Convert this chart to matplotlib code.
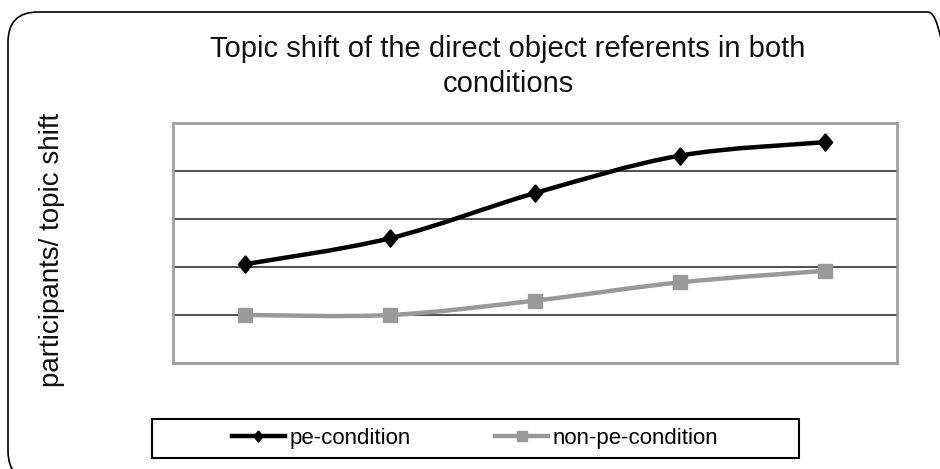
import numpy as np
import matplotlib
matplotlib.use("Agg")
import matplotlib.pyplot as plt
from matplotlib.path import Path
from matplotlib.patches import PathPatch, FancyBboxPatch, Rectangle
from matplotlib.lines import Line2D

plt.rcParams['font.family'] = ['Liberation Sans', 'DejaVu Sans']

# data (no axis labels in the original, scale 0-25)
pe_condition = [10.3, 13.0, 17.7, 21.6, 23.0]
non_pe_condition = [5.0, 5.0, 6.5, 8.4, 9.6]
series_names = ["pe-condition", "non-pe-condition"]
y_max = 25
y_step = 5

title_lines = ["Topic shift of the direct object referents in both", "conditions"]
y_label = "participants/ topic shift"


def smooth_path(xs, ys):
    # excel style smoothed line: cubic bezier through every point
    pts = np.column_stack([xs, ys]).astype(float)
    padded = np.vstack([pts[0], pts, pts[-1]])
    verts = [pts[0]]
    codes = [Path.MOVETO]
    for i in range(len(pts) - 1):
        p0, p1, p2, p3 = padded[i], padded[i + 1], padded[i + 2], padded[i + 3]
        verts += [p1 + (p2 - p0) / 6, p2 - (p3 - p1) / 6, p2]
        codes += [Path.CURVE4] * 3
    return Path(verts, codes)


fig = plt.figure(figsize=(9.4, 4.69), dpi=100)
fig.patch.set_facecolor("white")

# rounded outer frame in inches (right and bottom run off the image)
frame = FancyBboxPatch((0.08, -0.12), 9.5, 4.69, boxstyle="round,pad=0,rounding_size=0.3",
                       transform=fig.dpi_scale_trans, facecolor="none",
                       edgecolor="black", linewidth=1.2)
fig.add_artist(frame)

ax = fig.add_axes([173 / 940, 1 - 363 / 469, 724 / 940, 240 / 469])
x = np.arange(len(pe_condition))

ax.add_patch(PathPatch(smooth_path(x, pe_condition), fill=False,
                       edgecolor="black", linewidth=3.2, capstyle="round", zorder=3))
ax.add_patch(PathPatch(smooth_path(x, non_pe_condition), fill=False,
                       edgecolor="#999999", linewidth=3.2, capstyle="round", zorder=2))

diamond = [(0, 1), (0.82, 0), (0, -1), (-0.82, 0), (0, 1)]
ax.plot(x, pe_condition, linestyle="none", marker=diamond, markersize=12.5,
        color="black", zorder=4)
ax.plot(x, non_pe_condition, linestyle="none", marker="s", markersize=9.5,
        color="#999999", zorder=4)

ax.set_xlim(-0.5, len(pe_condition) - 0.5)
ax.set_ylim(0, y_max)
ax.set_yticks(np.arange(0, y_max + 1, y_step))
ax.set_xticks([])
ax.tick_params(axis="y", length=0, labelleft=False)
ax.grid(axis="y", color="#303030", linewidth=1.2)
ax.set_axisbelow(True)
for sp in ax.spines.values():
    sp.set_color("#a0a0a0")
    sp.set_linewidth(2)

# title and axis label
fig.text(508 / 940, 1 - 57 / 469, title_lines[0], ha="center", va="baseline",
         fontsize=21, color="#111111")
fig.text(508 / 940, 1 - 92 / 469, title_lines[1], ha="center", va="baseline",
         fontsize=21, color="#111111")
fig.text(52 / 940, 1 - 250 / 469, y_label, rotation=90, ha="center", va="center",
         fontsize=20, color="#111111")

# legend box
fig.add_artist(Rectangle((152 / 940, 1 - 458 / 469), 647 / 940, 39 / 469,
                         transform=fig.transFigure, facecolor="white",
                         edgecolor="black", linewidth=1.5))
handles = [
    Line2D([], [], color="black", linewidth=3.2, marker=diamond, markersize=8),
    Line2D([], [], color="#999999", linewidth=3.2, marker="s", markersize=7),
]
fig.legend(handles, series_names, loc="center", bbox_to_anchor=(475 / 940, 1 - 438.5 / 469),
           ncol=2, frameon=False, fontsize=16, handlelength=2.4, handletextpad=0.2,
           columnspacing=3.8, borderpad=0)

fig.savefig("out.png", dpi=100)
